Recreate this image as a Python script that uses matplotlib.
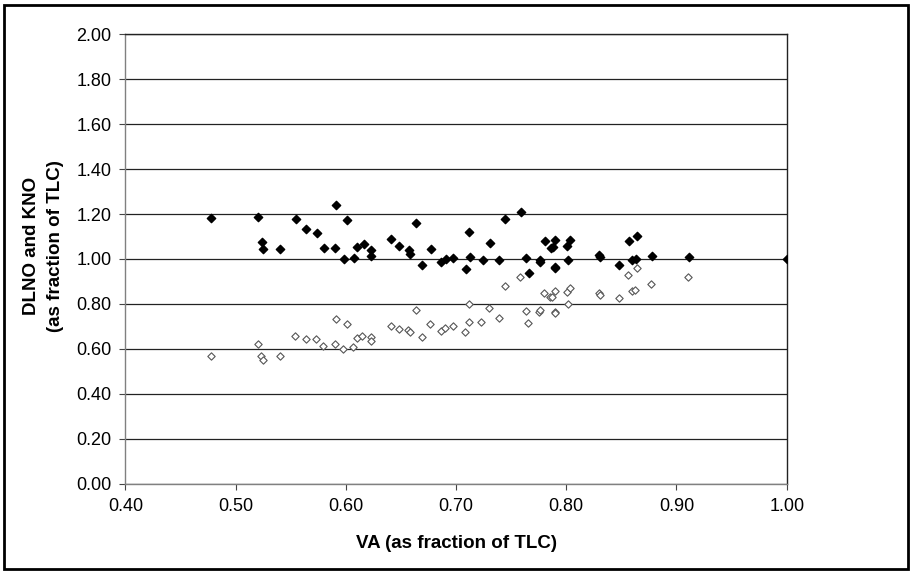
import matplotlib
matplotlib.use("Agg")
import matplotlib.pyplot as plt
from matplotlib.patches import Rectangle

plt.rcParams['font.family'] = ['Liberation Sans', 'DejaVu Sans']

va_filled = [0.478, 0.520, 0.524, 0.525, 0.540, 0.555, 0.564, 0.574, 0.580, 0.590,
             0.591, 0.598, 0.601, 0.607, 0.610, 0.616, 0.623, 0.623, 0.641, 0.648,
             0.657, 0.658, 0.664, 0.669, 0.677, 0.686, 0.691, 0.697, 0.709, 0.712,
             0.713, 0.724, 0.731, 0.739, 0.744, 0.759, 0.763, 0.766, 0.776, 0.776,
             0.781, 0.786, 0.788, 0.790, 0.790, 0.790, 0.801, 0.802, 0.803, 0.830,
             0.831, 0.848, 0.857, 0.860, 0.863, 0.864, 0.878, 0.911, 1.000]
kno = [1.181, 1.188, 1.076, 1.043, 1.046, 1.179, 1.133, 1.117, 1.050, 1.050,
       1.239, 1.000, 1.175, 1.004, 1.055, 1.067, 1.039, 1.012, 1.088, 1.058,
       1.040, 1.021, 1.159, 0.971, 1.043, 0.987, 1.000, 1.004, 0.955, 1.122,
       1.008, 0.996, 1.071, 0.996, 1.179, 1.209, 1.004, 0.938, 0.996, 0.985,
       1.080, 1.050, 1.055, 1.085, 0.966, 0.959, 1.058, 0.996, 1.085, 1.018,
       1.009, 0.971, 1.080, 0.996, 1.000, 1.104, 1.013, 1.009, 1.000]

va_open = [0.478, 0.520, 0.523, 0.525, 0.540, 0.554, 0.564, 0.573, 0.579, 0.590,
           0.591, 0.597, 0.601, 0.606, 0.610, 0.615, 0.623, 0.623, 0.641, 0.648,
           0.656, 0.658, 0.664, 0.669, 0.676, 0.686, 0.690, 0.697, 0.708, 0.712,
           0.712, 0.723, 0.730, 0.739, 0.744, 0.758, 0.763, 0.765, 0.775, 0.776,
           0.780, 0.785, 0.787, 0.790, 0.790, 0.790, 0.801, 0.802, 0.803, 0.830,
           0.831, 0.848, 0.856, 0.860, 0.862, 0.864, 0.877, 0.910, 1.000]
dlno = [0.567, 0.622, 0.567, 0.549, 0.567, 0.659, 0.643, 0.643, 0.613, 0.622,
        0.734, 0.600, 0.709, 0.610, 0.647, 0.659, 0.651, 0.634, 0.700, 0.688,
        0.684, 0.675, 0.772, 0.654, 0.709, 0.680, 0.691, 0.700, 0.677, 0.801,
        0.721, 0.721, 0.783, 0.737, 0.881, 0.919, 0.767, 0.717, 0.763, 0.774,
        0.847, 0.830, 0.830, 0.859, 0.763, 0.760, 0.852, 0.801, 0.872, 0.847,
        0.840, 0.826, 0.927, 0.858, 0.864, 0.961, 0.889, 0.919, 1.000]

x_ticks = [0.40, 0.50, 0.60, 0.70, 0.80, 0.90, 1.00]
y_ticks = [0.0, 0.2, 0.4, 0.6, 0.8, 1.0, 1.2, 1.4, 1.6, 1.8, 2.0]

fig = plt.figure(figsize=(9.12, 5.71), dpi=100)
ax = fig.add_axes([0.1376, 0.1529, 0.725, 0.7871])

ax.scatter(va_open, dlno, marker='D', s=14, facecolors='white',
           edgecolors='#555555', linewidths=0.8, zorder=3)
ax.scatter(va_filled, kno, marker='D', s=18, color='black', zorder=4)

ax.set_xlim(0.40, 1.00)
ax.set_ylim(0.0, 2.0)
ax.set_xticks(x_ticks)
ax.set_yticks(y_ticks)
ax.set_xticklabels(['%.2f' % v for v in x_ticks])
ax.set_yticklabels(['%.2f' % v for v in y_ticks])
ax.tick_params(direction='out', length=4, width=0.8, labelsize=13, colors='black')
ax.tick_params(axis='x', pad=6, color='#444444')
ax.tick_params(axis='y', pad=6, color='#444444')

ax.yaxis.grid(True, color='#222222', linewidth=0.9)
ax.set_axisbelow(True)
for side in ['left', 'bottom']:
    ax.spines[side].set_color('#808080')
    ax.spines[side].set_linewidth(1.0)
for side in ['top', 'right']:
    ax.spines[side].set_color('#222222')
    ax.spines[side].set_linewidth(1.0)

ax.set_xlabel('VA (as fraction of TLC)', fontsize=13.5, fontweight='bold', va='center')
ax.xaxis.set_label_coords(0.5, -0.134)
ax.set_ylabel('DLNO and KNO\n(as fraction of TLC)', fontsize=13.5, fontweight='bold',
              linespacing=1.5, va='center')
ax.yaxis.set_label_coords(-0.124, 0.529)

# border round the whole chart
fig.patches.append(Rectangle((0.004, 0.003), 0.992, 0.988, transform=fig.transFigure,
                             fill=False, edgecolor='black', linewidth=2.0))

fig.savefig('out.png', dpi=100)
